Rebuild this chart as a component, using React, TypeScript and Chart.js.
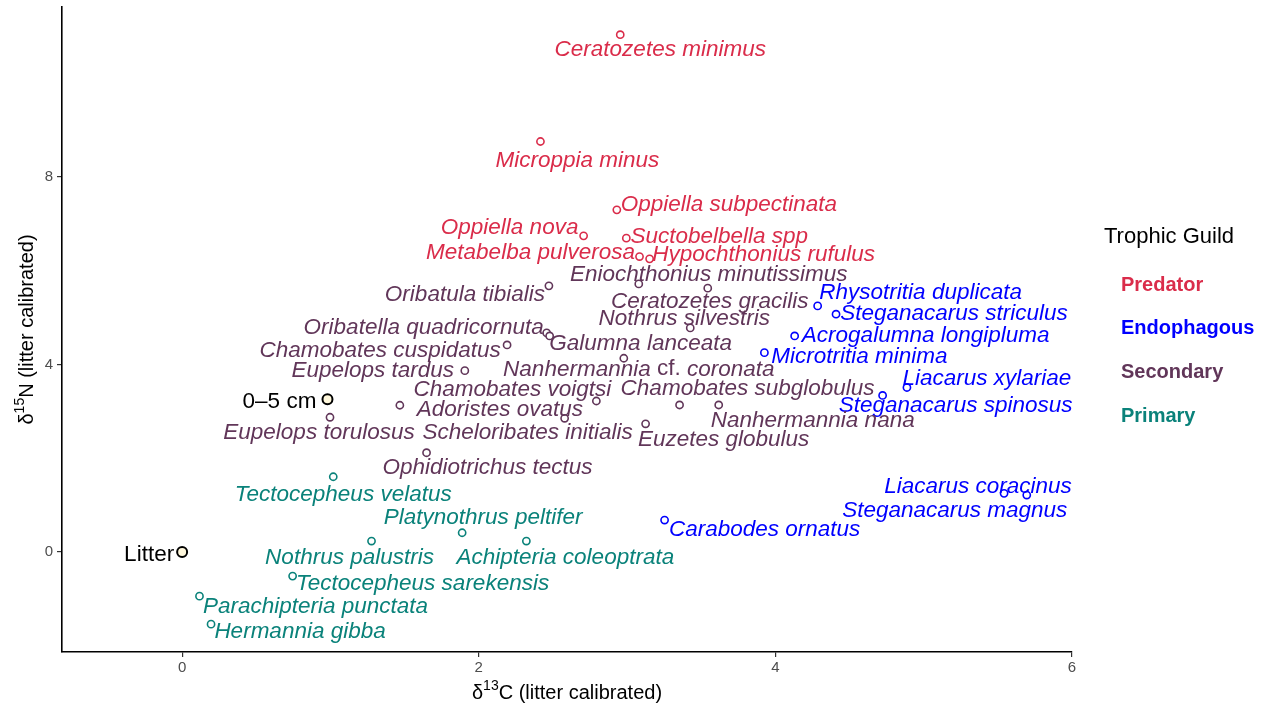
import React, { useEffect, useRef } from "react";
import { Chart, registerables } from "chart.js";
Chart.register(...registerables);

// ---------- data ----------
const guilds = ["Predator", "Endophagous", "Secondary", "Primary"];

const predatorNames = ["Ceratozetes minimus", "Microppia minus", "Oppiella subpectinata", "Oppiella nova", "Suctobelbella spp", "Metabelba pulverosa", "Hypochthonius rufulus"];
const predatorC = [2.954, 2.416, 2.931, 2.707, 2.995, 3.084, 3.152];
const predatorN = [11.03, 8.753, 7.296, 6.741, 6.692, 6.300, 6.251];

const endoNames = ["Rhysotritia duplicata", "Steganacarus striculus", "Acrogalumna longipluma", "Microtritia minima", "Liacarus xylariae", "Steganacarus spinosus", "Liacarus coracinus", "Steganacarus magnus", "Carabodes ornatus"];
const endoC = [4.285, 4.409, 4.130, 3.926, 4.887, 4.723, 5.542, 5.695, 3.253];
const endoN = [5.248, 5.071, 4.608, 4.252, 3.509, 3.339, 1.252, 1.216, 0.683];

const secondaryNames = ["Eniochthonius minutissimus", "Oribatula tibialis", "Ceratozetes gracilis", "Nothrus silvestris", "Oribatella quadricornuta", "Galumna lanceata", "Chamobates cuspidatus", "Eupelops tardus", "Nanhermannia cf. coronata", "Chamobates voigtsi", "Chamobates subglobulus", "Adoristes ovatus", "Scheloribates initialis", "Eupelops torulosus", "Euzetes globulus", "Nanhermannia nana", "Ophidiotrichus tectus"];
const secondaryC = [3.079, 2.473, 3.544, 3.426, 2.458, 2.478, 2.191, 1.906, 2.978, 2.793, 3.354, 1.468, 2.579, 0.997, 3.125, 3.618, 1.648];
const secondaryN = [5.717, 5.675, 5.626, 4.779, 4.672, 4.608, 4.416, 3.868, 4.132, 3.221, 3.136, 3.130, 2.852, 2.874, 2.735, 3.136, 2.118];

const primaryNames = ["Tectocepheus velatus", "Platynothrus peltifer", "Nothrus palustris", "Achipteria coleoptrata", "Tectocepheus sarekensis", "Parachipteria punctata", "Hermannia gibba"];
const primaryC = [1.019, 1.888, 1.277, 2.321, 0.745, 0.117, 0.195];
const primaryN = [1.606, 0.412, 0.235, 0.235, -0.512, -0.939, -1.536];

const refNames = ["Litter", "0–5 cm"];
const refC = [0, 0.98];
const refN = [0, 3.26];

const xTicks = [0, 2, 4, 6];
const yTicks = [0, 4, 8];

// ---------- layout / style (label offsets in px from point, repel-like) ----------
const predatorOffsets = [[40, 13], [37, 17], [112, -7], [-74, -10], [93, -3], [-109, -6], [114, -6]];
const endoOffsets = [[103, -15], [118, -2], [131, -2], [95, 2], [80, -11], [73, 8], [-26, -9], [-72, 14], [100, 8]];
const secondaryOffsets = [[70, -11], [-84, 7], [2, 12], [-6, -11], [-123, -7], [91, 6], [-127, 4], [-92, -2], [15, 9], [-84, -13], [68, -18], [100, 2], [-37, 12], [-11, 13], [78, 14], [94, 14], [61, 13]];
const primaryOffsets = [[10, 16], [21, -17], [-22, 15], [39, 15], [130, 6], [116, 9], [89, 6]];
const refOffsets = [[-33, 1], [-48, 1]];
const LABEL_SHIFT_Y = 2;

const guildColors = ["#DA2C4A", "#0000FF", "#613659", "#0A827A"];
const FONT = '"Liberation Sans", Arial, Helvetica, sans-serif';
const LABEL_SIZE = 22.5;

const groups = [
  { names: predatorNames, c: predatorC, n: predatorN, off: predatorOffsets },
  { names: endoNames, c: endoC, n: endoN, off: endoOffsets },
  { names: secondaryNames, c: secondaryC, n: secondaryN, off: secondaryOffsets },
  { names: primaryNames, c: primaryC, n: primaryN, off: primaryOffsets },
];

function drawLabel(ctx: CanvasRenderingContext2D, text: string, cx: number, cy: number) {
  const segs: { t: string; it: boolean }[] = [];
  const idx = text.indexOf(" cf. ");
  if (idx >= 0) {
    segs.push({ t: text.slice(0, idx + 1), it: true });
    segs.push({ t: "cf.", it: false });
    segs.push({ t: text.slice(idx + 4), it: true });
  } else segs.push({ t: text, it: true });
  let total = 0;
  const widths = segs.map((s) => {
    ctx.font = `${s.it ? "italic " : ""}${LABEL_SIZE}px ${FONT}`;
    const w = ctx.measureText(s.t).width;
    total += w;
    return w;
  });
  let x = cx - total / 2;
  ctx.textAlign = "left";
  ctx.textBaseline = "middle";
  segs.forEach((s, i) => {
    ctx.font = `${s.it ? "italic " : ""}${LABEL_SIZE}px ${FONT}`;
    ctx.fillText(s.t, x, cy);
    x += widths[i];
  });
}

const labelPlugin = {
  id: "labels",
  afterDatasetsDraw(chart: any) {
    const ctx: CanvasRenderingContext2D = chart.ctx;
    const xs = chart.scales.x;
    const ys = chart.scales.y;
    ctx.save();
    groups.forEach((g, gi) => {
      ctx.fillStyle = guildColors[gi];
      g.names.forEach((nm, i) => {
        const px = xs.getPixelForValue(g.c[i]);
        const py = ys.getPixelForValue(g.n[i]);
        drawLabel(ctx, nm, px + g.off[i][0], py + g.off[i][1] + LABEL_SHIFT_Y);
      });
    });
    ctx.fillStyle = "#000";
    ctx.font = `${LABEL_SIZE}px ${FONT}`;
    ctx.textAlign = "center";
    ctx.textBaseline = "middle";
    refNames.forEach((nm, i) => {
      const px = xs.getPixelForValue(refC[i]);
      const py = ys.getPixelForValue(refN[i]);
      ctx.fillText(nm, px + refOffsets[i][0], py + refOffsets[i][1] + LABEL_SHIFT_Y);
    });
    ctx.restore();
  },
  afterDraw(chart: any) {
    const ctx: CanvasRenderingContext2D = chart.ctx;
    const ca = chart.chartArea;
    ctx.save();
    ctx.fillStyle = "#000";
    ctx.textBaseline = "middle";
    const drawSup = (main1: string, sup: string, main2: string) => {
      ctx.font = `20px ${FONT}`;
      const w1 = ctx.measureText(main1).width;
      const w3 = ctx.measureText(main2).width;
      ctx.font = `14px ${FONT}`;
      const w2 = ctx.measureText(sup).width;
      const total = w1 + w2 + w3;
      let x = -total / 2;
      ctx.textAlign = "left";
      ctx.font = `20px ${FONT}`;
      ctx.fillText(main1, x, 0);
      x += w1;
      ctx.font = `14px ${FONT}`;
      ctx.fillText(sup, x, -7);
      x += w2;
      ctx.font = `20px ${FONT}`;
      ctx.fillText(main2, x, 0);
    };
    ctx.save();
    ctx.translate((ca.left + ca.right) / 2, 693);
    drawSup("δ", "13", "C (litter calibrated)");
    ctx.restore();
    ctx.save();
    ctx.translate(27, (ca.top + ca.bottom) / 2);
    ctx.rotate(-Math.PI / 2);
    drawSup("δ", "15", "N (litter calibrated)");
    ctx.restore();
    // legend
    ctx.textAlign = "left";
    ctx.font = `22px ${FONT}`;
    ctx.fillStyle = "#000";
    ctx.fillText("Trophic Guild", 1104, 237);
    const ly = [285, 328, 372, 416];
    ctx.font = `bold 20px ${FONT}`;
    guilds.forEach((g, i) => {
      ctx.fillStyle = guildColors[i];
      ctx.fillText(g, 1121, ly[i]);
    });
    ctx.restore();
  },
};

export default function App() {
  const ref = useRef<HTMLCanvasElement>(null);
  useEffect(() => {
    if (!ref.current) return;
    const datasets: any[] = groups.map((g, gi) => ({
      label: guilds[gi],
      data: g.c.map((c, i) => ({ x: c, y: g.n[i] })),
      pointRadius: 3.6,
      pointBorderWidth: 1.6,
      pointBackgroundColor: "#ffffff",
      borderColor: guildColors[gi],
      pointBorderColor: guildColors[gi],
      showLine: false,
    }));
    datasets.push({
      label: "Reference",
      data: refC.map((c, i) => ({ x: c, y: refN[i] })),
      pointRadius: 5,
      pointBorderWidth: 2,
      pointBackgroundColor: "#FFF8DC",
      pointBorderColor: "#000000",
      borderColor: "#000",
      showLine: false,
    });
    const chart = new Chart(ref.current, {
      type: "scatter",
      data: { datasets },
      plugins: [labelPlugin],
      options: {
        responsive: false,
        animation: false,
        layout: { padding: { left: 0, top: 7, right: 191, bottom: 0 }, autoPadding: false } as any,
        plugins: { legend: { display: false }, tooltip: { enabled: false } },
        scales: {
          x: {
            type: "linear",
            min: -0.81,
            max: 6.0,
            afterBuildTicks: (s: any) => { s.ticks = xTicks.map((v) => ({ value: v })); },
            afterFit: (s: any) => { s.height = 57; s.paddingLeft = 0; s.paddingRight = 0; },
            grid: { display: true, drawOnChartArea: false, drawTicks: true, tickLength: 5, color: "#333", lineWidth: 1.2 },
            border: { display: true, color: "#000", width: 1.6 },
            ticks: { color: "#4d4d4d", font: { family: FONT, size: 15 }, padding: 2, maxRotation: 0 },
          },
          y: {
            type: "linear",
            min: -2.13,
            max: 11.62,
            afterBuildTicks: (s: any) => { s.ticks = yTicks.map((v) => ({ value: v })); },
            afterFit: (s: any) => { s.width = 62; s.paddingTop = 0; s.paddingBottom = 0; },
            grid: { display: true, drawOnChartArea: false, drawTicks: true, tickLength: 5, color: "#333", lineWidth: 1.2 },
            border: { display: true, color: "#000", width: 1.6 },
            ticks: { color: "#4d4d4d", font: { family: FONT, size: 15 }, padding: 4 },
          },
        },
      },
    });
    return () => chart.destroy();
  }, []);
  return (
    <div style={{ position: "fixed", left: 0, top: 0, width: 1263, height: 709, background: "#fff" }}>
      <canvas ref={ref} width={1263} height={709} style={{ width: 1263, height: 709 }} />
    </div>
  );
}
